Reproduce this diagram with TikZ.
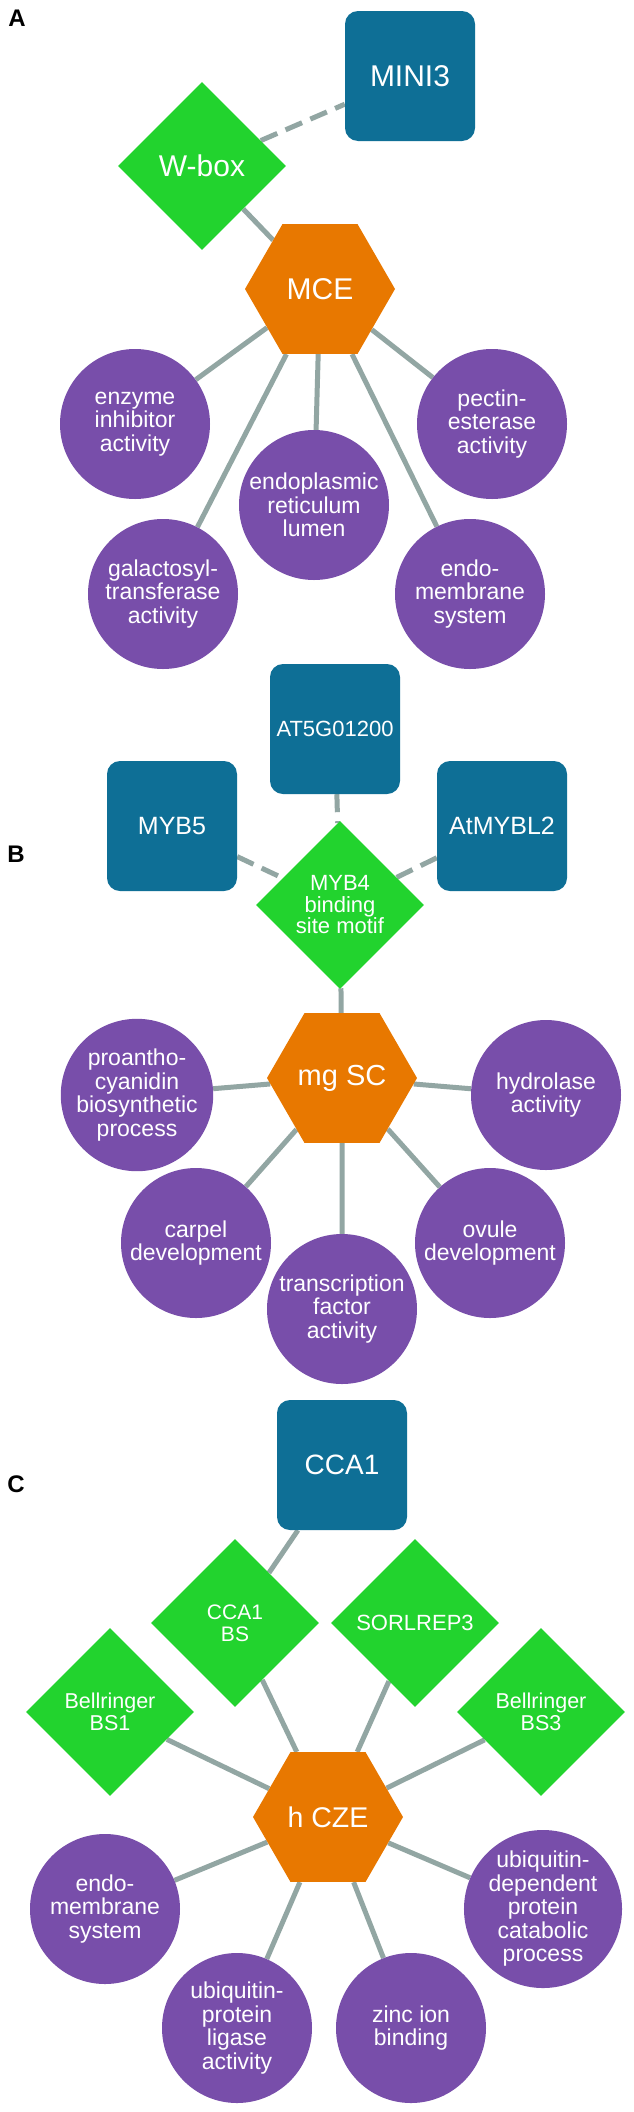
\documentclass[tikz,border=0pt]{standalone}
\usepackage{fontspec}
\setmainfont{Liberation Sans}
\usetikzlibrary{shapes.geometric,backgrounds}
\definecolor{boxblue}{RGB}{14,111,150}
\definecolor{motifgreen}{RGB}{34,211,46}
\definecolor{clusterorange}{RGB}{232,120,0}
\definecolor{goPurple}{RGB}{120,78,170}
\definecolor{edgegrey}{RGB}{146,166,163}
\begin{document}
\begin{tikzpicture}[x=1pt,y=-1pt,
 tf/.style={rectangle, rounded corners=13pt, fill=boxblue, text=white, minimum width=130pt, minimum height=130pt, inner sep=0pt, align=center},
 motif/.style={diamond, fill=motifgreen, text=white, minimum width=168pt, minimum height=168pt, inner sep=0pt, aspect=1, align=center},
 cluster/.style={regular polygon, regular polygon sides=6, fill=clusterorange, text=white, minimum size=150pt, inner sep=0pt},
 go/.style={circle, fill=goPurple, text=white, minimum size=150pt, inner sep=0pt, align=center, font=\fontsize{23}{23.5}\selectfont},
 link/.style={draw=edgegrey, line width=5pt},
 dlink/.style={link, dash pattern=on 18pt off 9pt},
 panel/.style={font=\fontsize{24}{24}\selectfont\bfseries, anchor=center}
]
\useasboundingbox (0,0) rectangle (634,2112);

% Panel A
\node[panel] (labA) at (17,18) {A};
\node[tf, font=\fontsize{30}{30}\selectfont] (mini3) at (410,76) {MINI3};
\node[motif, font=\fontsize{30}{30}\selectfont] (wbox) at (202,166) {W-box};
\node[cluster, font=\fontsize{30}{30}\selectfont] (mce) at (320,289) {MCE};
\node[go] (a1) at (135,424) {enzyme\\inhibitor\\activity};
\node[go] (a2) at (492,424) {pectin-\\esterase\\activity};
\node[go] (a3) at (314,505) {endoplasmic\\reticulum\\lumen};
\node[go] (a4) at (163,594) {galactosyl-\\transferase\\activity};
\node[go] (a5) at (470,594) {endo-\\membrane\\system};

% Panel B
\node[panel] (labB) at (16,854) {B};
\node[tf, font=\fontsize{22}{22}\selectfont] (at5g) at (335,729) {AT5G01200};
\node[tf, font=\fontsize{25}{25}\selectfont] (myb5) at (172,826) {MYB5};
\node[tf, font=\fontsize{25}{25}\selectfont] (mybl2) at (502,826) {AtMYBL2};
\node[motif, font=\fontsize{22}{21.5}\selectfont] (myb4) at (340,905) {MYB4\\binding\\site motif};
\node[cluster, font=\fontsize{29}{29}\selectfont] (mgsc) at (342,1078) {mg SC};
\node[go] (b1) at (137,1095) {proantho-\\cyanidin\\biosynthetic\\process};
\node[go] (b2) at (546,1095) {hydrolase\\activity};
\node[go] (b3) at (196,1243) {carpel\\development};
\node[go] (b4) at (490,1243) {ovule\\development};
\node[go] (b5) at (342,1309) {transcription\\factor\\activity};

% Panel C
\node[panel] (labC) at (16,1484) {C};
\node[tf, font=\fontsize{28}{28}\selectfont] (cca1) at (342,1465) {CCA1};
\node[motif, font=\fontsize{21}{22}\selectfont] (cbs) at (235,1623) {CCA1\\BS};
\node[motif, font=\fontsize{22}{22}\selectfont] (sorl) at (415,1623) {SORLREP3};
\node[motif, font=\fontsize{21.5}{22}\selectfont] (bs1) at (110,1712) {Bellringer\\BS1};
\node[motif, font=\fontsize{21.5}{22}\selectfont] (bs3) at (541,1712) {Bellringer\\BS3};
\node[cluster, font=\fontsize{28.5}{28.5}\selectfont] (hcze) at (328,1817) {h CZE};
\node[go] (c1) at (105,1909) {endo-\\membrane\\system};
\node[go] (c2) at (543,1909) {ubiquitin-\\dependent\\protein\\catabolic\\process};
\node[go] (c3) at (237,2028) {ubiquitin-\\protein\\ligase\\activity};
\node[go] (c4) at (411,2028) {zinc ion\\binding};

\begin{scope}[on background layer]
\fill[white] (0,0) rectangle (634,2112);
\draw[dlink] (wbox) -- (mini3);
\draw[link] (wbox) -- (mce);
\foreach \t in {a1,a2,a3,a4,a5} \draw[link] (mce) -- (\t);
\draw[dlink] (at5g) -- (myb4);
\draw[dlink] (myb5) -- (myb4);
\draw[dlink] (mybl2) -- (myb4);
\draw[link] (myb4) -- (mgsc);
\foreach \t in {b1,b2,b3,b4,b5} \draw[link] (mgsc) -- (\t);
\draw[link] (cca1) -- (cbs);
\foreach \s in {cbs,sorl,bs1,bs3} \draw[link] (\s) -- (hcze);
\foreach \t in {c1,c2,c3,c4} \draw[link] (hcze) -- (\t);
\end{scope}
\end{tikzpicture}
\end{document}
